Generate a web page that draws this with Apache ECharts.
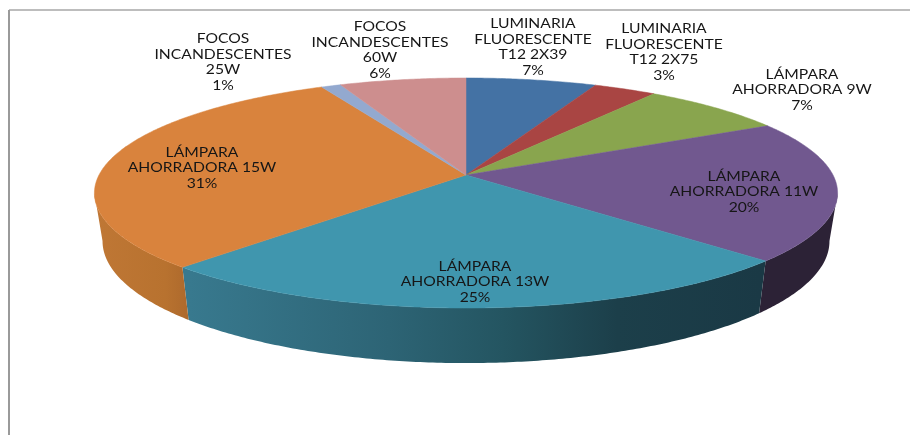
<!DOCTYPE html>
<html>
<head>
<meta charset="utf-8">
<style>html,body{margin:0;padding:0;background:#fff}#c{width:910px;height:435px}</style>
<script src="https://cdn.jsdelivr.net/npm/echarts@6/dist/echarts.min.js"></script>
</head>
<body>
<div id="c"></div>
<script>
// --- data ---
const categories = [
  'LUMINARIA\nFLUORESCENTE\nT12 2X39',
  'LUMINARIA\nFLUORESCENTE\nT12 2X75',
  'LÁMPARA\nAHORRADORA 9W',
  'LÁMPARA\nAHORRADORA 11W',
  'LÁMPARA\nAHORRADORA 13W',
  'LÁMPARA\nAHORRADORA 15W',
  'FOCOS\nINCANDESCENTES\n25W',
  'FOCOS\nINCANDESCENTES\n60W'
];
const shares = [6.6, 3.2, 7.4, 19.8, 25.0, 30.6, 1.0, 6.4];

// --- styling and layout (separate from the data) ---
const topColors = ['#4472a4', '#a94543', '#89a54e', '#71588f', '#4096ae', '#d9833d', '#93a9cf', '#cd8e8e'];
const sideStops = [
  [[0, '#2f5070'], [1, '#2f5070']],
  [[0, '#6f2d2c'], [1, '#6f2d2c']],
  [[0, '#5a6d33'], [1, '#5a6d33']],
  [[0, '#2c2236'], [1, '#2c2236']],
  [[0, '#38798e'], [0.35, '#2d6475'], [0.55, '#245561'], [0.75, '#1c3f4a'], [1, '#1a3945']],
  [[0, '#bf7735'], [0.75, '#b8722f'], [1, '#ad692c']],
  [[0, '#5f7092'], [1, '#5f7092']],
  [[0, '#8a5e5e'], [1, '#8a5e5e']]
];
const sideRanges = [[466,760],[466,760],[466,760],[760,840],[189,760],[95,189],[95,466],[95,466]];
const labelAnchors = [[533,47],[664,52],[802,90],[744,192],[475,282],[202,168],[223,62],[380,50]];
const topPlane = {cx: 466, cy: 175, rx: 367, ry: 112.2, k: 0.1565};
const basePlane = {cx: 466, cy: 222, rx: 359, ry: 119, k: 0.1565};

const total = shares.reduce((a, b) => a + b, 0);
const startAngle = i => shares.slice(0, i).reduce((a, b) => a + b, 0) / total * 2 * Math.PI;
// The wall is only visible between the two points where the rim is widest on screen.
const frontStart = Math.acos(-topPlane.k), frontEnd = 2 * Math.PI - frontStart;
function project(p, a, r) {
  const u = r * Math.sin(a), v = r * Math.cos(a), w = 1 + p.k * v;
  return [p.cx + p.rx * u / w, p.cy - p.ry * v / w];
}
function rim(p, a0, a1) {
  const n = Math.max(2, Math.ceil((a1 - a0) / 0.01)), pts = [];
  for (let j = 0; j <= n; j++) pts.push(project(p, a0 + (a1 - a0) * j / n, 1));
  return pts;
}
const rows = shares.map((v, i) => [i, v]);

function renderSide(params, api) {
  const i = api.value(0), s = startAngle(i), e = s + api.value(1) / total * 2 * Math.PI;
  const a0 = Math.max(s, frontStart), a1 = Math.min(e, frontEnd);
  if (a1 <= a0) return null;
  const pts = rim(topPlane, a0, a1).concat(rim(basePlane, a0, a1).reverse());
  return {
    type: 'polygon', shape: {points: pts},
    style: {
      fill: {type: 'linear', global: true, x: sideRanges[i][0], y: 0, x2: sideRanges[i][1], y2: 0,
        colorStops: sideStops[i].map(s => ({offset: s[0], color: s[1]}))}
    }
  };
}
function renderTop(params, api) {
  const i = api.value(0), a0 = startAngle(i), a1 = a0 + api.value(1) / total * 2 * Math.PI;
  const pts = [[topPlane.cx, topPlane.cy]].concat(rim(topPlane, a0, a1));
  return {
    type: 'polygon', shape: {points: pts},
    style: {fill: topColors[i], stroke: topColors[i], lineWidth: 0.5}
  };
}
function renderLabel(params, api) {
  const i = api.value(0);
  return {
    type: 'text', x: labelAnchors[i][0], y: labelAnchors[i][1], scaleX: 1.16,
    style: {
      text: categories[i] + '\n' + Math.round(api.value(1) / total * 100) + '%',
      font: '13.5px Lato', fill: '#161616', align: 'center', verticalAlign: 'middle', lineHeight: 15.5
    }
  };
}

const chart = echarts.init(document.getElementById('c'), null, {renderer: 'canvas'});
chart.setOption({
  animation: false,
  backgroundColor: '#ffffff',
  graphic: [
    {type: 'line', shape: {x1: 9, y1: 10, x2: 910, y2: 10}, style: {stroke: '#bdbdbd', lineWidth: 2}},
    {type: 'line', shape: {x1: 9, y1: 10, x2: 9, y2: 435}, style: {stroke: '#9a9a9a', lineWidth: 2}}
  ],
  series: [
    {type: 'custom', coordinateSystem: 'none', data: rows, renderItem: renderSide, z: 2, silent: true},
    {type: 'custom', coordinateSystem: 'none', data: rows, renderItem: renderTop, z: 3, silent: true},
    {type: 'custom', coordinateSystem: 'none', data: rows, renderItem: renderLabel, z: 4, silent: true}
  ]
});
</script>
</body>
</html>
